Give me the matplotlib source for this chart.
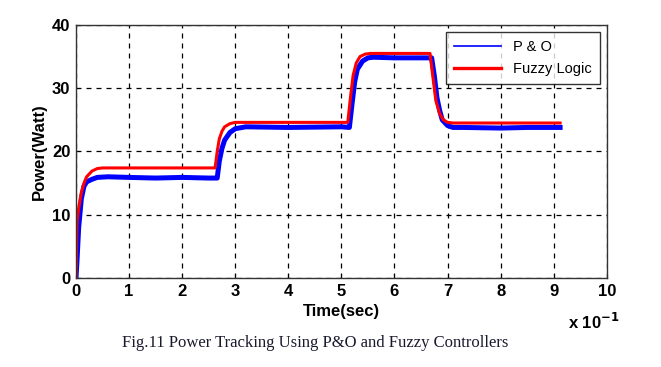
import matplotlib
matplotlib.use("Agg")
import matplotlib.pyplot as plt
from matplotlib.lines import Line2D

plt.rcParams['font.family'] = ['Liberation Sans', 'DejaVu Sans']

# Time in units of 1e-1 s
t_po = [0.0, 0.02, 0.05, 0.1, 0.15, 0.2, 0.3, 0.4, 0.6, 1.0, 1.5, 2.0, 2.5, 2.66,
        2.7, 2.75, 2.8, 2.9, 3.0, 3.2, 4.0, 5.0, 5.15,
        5.2, 5.25, 5.3, 5.4, 5.5, 5.6, 6.0, 6.5, 6.7,
        6.75, 6.8, 6.85, 6.9, 7.0, 7.1, 7.3, 8.0, 8.5, 9.12]
p_po = [0.0, 3.0, 8.0, 12.5, 14.5, 15.2, 15.6, 15.9, 16.0, 15.9, 15.8, 15.9, 15.8, 15.8,
        18.5, 20.5, 21.8, 23.0, 23.6, 23.9, 23.8, 23.9, 23.8,
        27.5, 31.0, 33.0, 34.3, 34.8, 34.9, 34.8, 34.8, 34.8,
        32.0, 28.5, 26.5, 25.0, 24.1, 23.8, 23.8, 23.7, 23.8, 23.8]

t_fz = [0.0, 0.02, 0.05, 0.1, 0.15, 0.2, 0.3, 0.4, 0.5, 1.0, 2.0, 2.62,
        2.66, 2.7, 2.75, 2.8, 2.9, 3.0, 3.2, 4.0, 5.0, 5.12,
        5.17, 5.22, 5.28, 5.35, 5.45, 5.55, 6.0, 6.67,
        6.72, 6.78, 6.85, 6.92, 7.0, 7.1, 8.0, 9.12]
p_fz = [0.0, 9.0, 11.0, 13.5, 15.0, 16.0, 16.9, 17.3, 17.4, 17.4, 17.4, 17.4,
        20.0, 22.0, 23.2, 23.9, 24.4, 24.6, 24.6, 24.6, 24.6, 24.6,
        28.5, 32.0, 34.0, 35.0, 35.4, 35.5, 35.5, 35.5,
        32.0, 28.0, 26.0, 25.0, 24.6, 24.5, 24.5, 24.5]

series_labels = ["P & O", "Fuzzy Logic"]

fig = plt.figure(figsize=(6.61, 3.67), dpi=100)
ax = fig.add_axes([0.115, 0.2425, 0.803, 0.6895])

ax.plot(t_po, p_po, color="#0000ff", lw=3.6, solid_joinstyle="round")
ax.plot(t_fz, p_fz, color="#ff0000", lw=2.2)

ax.set_xlim(0, 10)
ax.set_ylim(0, 40)
ax.set_xticks(range(0, 11))
ax.set_yticks([0, 10, 20, 30, 40])
ax.grid(True, color="black", linestyle=(0, (4, 4)), linewidth=0.9)
ax.tick_params(direction="in", length=3, labelsize=12, pad=4)
for lab in ax.get_xticklabels() + ax.get_yticklabels():
    lab.set_fontweight("bold")
for s in ax.spines.values():
    s.set_linewidth(1.0)
    s.set_color("#333333")

ax.set_xlabel("Time(sec)", fontsize=12, fontweight="bold", labelpad=4)
ax.set_ylabel("Power(Watt)", fontsize=12, fontweight="bold", labelpad=4)

fig.text(0.898, 0.122, r"x 10$^{\mathbf{-1}}$", fontsize=12, fontweight="bold",
         ha="center", va="center")

handles = [Line2D([], [], color="#0000ff", lw=1.2),
           Line2D([], [], color="#ff0000", lw=2.4)]
leg = ax.legend(handles, series_labels, loc="upper right", fontsize=10.5, frameon=True,
                fancybox=False, edgecolor="black", borderaxespad=0.5,
                handlelength=3.2, borderpad=0.55, labelspacing=0.55)
leg.get_frame().set_linewidth(1.0)

fig.text(0.477, 0.065, "Fig.11 Power Tracking Using P&O and Fuzzy Controllers",
         fontsize=12, family="Liberation Serif", ha="center", va="center",
         color="#1a1a2e")

fig.savefig("out.png", dpi=100)
